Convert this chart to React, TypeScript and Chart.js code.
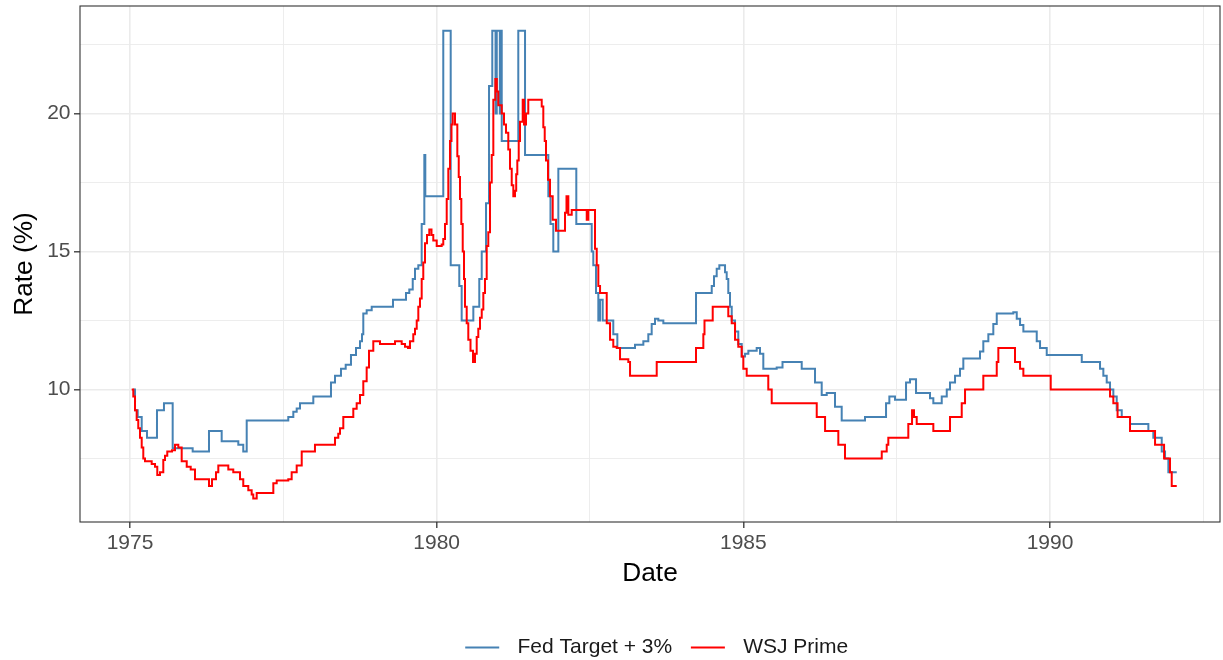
import React, { useEffect, useRef } from 'react';
import { Chart, registerables } from 'chart.js';

Chart.register(...registerables);

const FONT = "'Liberation Sans', Arial, Helvetica, sans-serif";

const seriesNames = ['Fed Target + 3%', 'WSJ Prime'];
const seriesColors = ['#4682B4', '#FF0000'];

// Fed Target + 3% (change points: decimal year, rate)
const fedTargetDates = [
  1975.054, 1975.082, 1975.126, 1975.191, 1975.277, 1975.440, 1975.554, 1975.696, 1976.022, 1976.288,
  1976.495, 1976.766, 1976.847, 1976.903, 1977.581, 1977.663, 1977.718, 1977.772, 1977.989, 1978.277,
  1978.343, 1978.440, 1978.517, 1978.603, 1978.685, 1978.750, 1978.783, 1978.804, 1978.859, 1978.941,
  1979.288, 1979.500, 1979.554, 1979.610, 1979.647, 1979.701, 1979.756, 1979.799, 1979.815, 1980.108,
  1980.229, 1980.369, 1980.408, 1980.598, 1980.695, 1980.735, 1980.805, 1980.854, 1980.907, 1980.960,
  1980.980, 1981.030, 1981.045, 1981.061, 1981.331, 1981.441, 1981.821, 1981.856,
  1981.902, 1981.984, 1982.277, 1982.528, 1982.554, 1982.598, 1982.636, 1982.664, 1982.707, 1982.880,
  1982.946, 1983.234, 1983.370, 1983.451, 1983.506, 1983.560, 1983.614, 1983.696, 1984.229, 1984.485,
  1984.522, 1984.566, 1984.609, 1984.702, 1984.729, 1984.755, 1984.783, 1984.811, 1984.865, 1984.918,
  1984.974, 1985.028, 1985.082, 1985.218, 1985.272, 1985.326, 1985.544, 1985.639, 1985.952, 1986.169,
  1986.278, 1986.360, 1986.495, 1986.604, 1986.984, 1987.327, 1987.381, 1987.473, 1987.653, 1987.718,
  1987.816, 1988.044, 1988.098, 1988.235, 1988.317, 1988.370, 1988.452, 1988.533, 1988.587, 1988.859,
  1988.913, 1988.995, 1989.076, 1989.132, 1989.402, 1989.458, 1989.512, 1989.566, 1989.784, 1989.838,
  1989.947, 1990.518, 1990.816, 1990.870, 1990.925, 1990.979, 1991.033, 1991.088, 1991.170, 1991.305,
  1991.604, 1991.685, 1991.822, 1991.876, 1991.930, 1992.067,
];
const fedTargetValues = [
  10.0, 9.25, 9.0, 8.5, 8.25, 9.25, 9.5, 7.875, 7.75, 8.5,
  8.125, 8.0, 7.75, 8.875, 9.0, 9.19, 9.31, 9.5, 9.75, 10.25,
  10.5, 10.75, 10.9, 11.25, 11.5, 11.75, 12.0, 12.75, 12.875, 13.0,
  13.25, 13.5, 13.625, 14.0, 14.375, 14.5, 16.0, 18.5, 17.0, 23.0,
  14.5, 13.75, 12.5, 13.0, 14.0, 15.0, 16.75, 21.0, 23.0, 20.0,
  23.0, 20.0, 23.0, 19.0, 23.0, 18.5, 17.0, 16.0,
  15.0, 18.0, 16.0, 15.0, 14.5, 13.5, 12.5, 13.25, 12.5, 12.0,
  11.5, 11.625, 11.75, 12.0, 12.375, 12.56, 12.5, 12.4, 13.5, 13.75,
  14.1, 14.375, 14.5, 14.25, 14.0, 13.5, 13.0, 12.5, 12.1, 11.65,
  11.2, 11.3, 11.4, 11.5, 11.3, 10.75, 10.8, 11.0, 10.75, 10.25,
  9.8, 9.875, 9.375, 8.875, 9.0, 9.5, 9.75, 9.625, 10.25, 10.375,
  9.875, 9.6875, 9.5, 9.75, 10.0, 10.25, 10.5, 10.75, 11.125, 11.375,
  11.75, 12.0, 12.375, 12.75, 12.8, 12.56, 12.34, 12.1, 11.75, 11.5,
  11.25, 11.0, 10.75, 10.5, 10.25, 10.0, 9.75, 9.25, 9.0, 8.75,
  8.5, 8.25, 7.75, 7.5, 7.0, 7.0,
];

// WSJ Prime (change points: decimal year, rate)
const wsjPrimeDates = [
  1975.028, 1975.054, 1975.082, 1975.109, 1975.135, 1975.163, 1975.191, 1975.217, 1975.245, 1975.354,
  1975.408, 1975.445, 1975.489, 1975.543, 1975.571, 1975.608, 1975.685, 1975.734, 1975.788, 1975.843,
  1975.925, 1975.990, 1976.060, 1976.288, 1976.337, 1976.402, 1976.440, 1976.603, 1976.684, 1976.794,
  1976.847, 1976.929, 1976.984, 1977.010, 1977.066, 1977.337, 1977.392, 1977.581, 1977.636, 1977.718,
  1977.800, 1978.016, 1978.343, 1978.396, 1978.424, 1978.478, 1978.641, 1978.696, 1978.750, 1978.804,
  1978.859, 1978.897, 1978.967, 1979.076, 1979.321, 1979.430, 1979.484, 1979.533, 1979.565, 1979.619,
  1979.647, 1979.675, 1979.701, 1979.728, 1979.756, 1979.782, 1979.810, 1979.843, 1979.880, 1979.916,
  1979.945, 1980.001, 1980.082, 1980.108, 1980.136, 1980.164, 1980.190, 1980.218, 1980.242, 1980.262,
  1980.299, 1980.337, 1980.360, 1980.381, 1980.402, 1980.425, 1980.446, 1980.462, 1980.490, 1980.516,
  1980.552, 1980.593, 1980.625, 1980.653, 1980.679, 1980.707, 1980.735, 1980.761, 1980.788, 1980.816,
  1980.842, 1980.870, 1980.898, 1980.924, 1980.957, 1980.981, 1981.005, 1981.061, 1981.098, 1981.131,
  1981.168, 1981.196, 1981.224, 1981.250, 1981.277, 1981.297, 1981.315, 1981.338, 1981.359, 1981.403,
  1981.424, 1981.457, 1981.494, 1981.713, 1981.739, 1981.762, 1981.783, 1981.816, 1981.848, 1981.892,
  1981.946, 1982.093, 1982.117, 1982.147, 1982.202, 1982.447, 1982.473, 1982.582, 1982.610, 1982.636,
  1982.664, 1982.773, 1982.827, 1982.880, 1982.936, 1982.990, 1983.125, 1983.153, 1983.588, 1984.229,
  1984.348, 1984.367, 1984.501, 1984.755, 1984.811, 1984.865, 1984.918, 1984.974, 1985.000, 1985.055,
  1985.407, 1985.463, 1986.197, 1986.333, 1986.549, 1986.658, 1987.257, 1987.338, 1987.364, 1987.690,
  1987.751, 1987.783, 1987.827, 1988.098, 1988.370, 1988.561, 1988.615, 1988.913, 1989.132, 1989.158,
  1989.430, 1989.512, 1989.566, 1990.012, 1990.979, 1991.033, 1991.102, 1991.305, 1991.713, 1991.860,
  1991.957, 1991.985, 1992.067,
];
const wsjPrimeValues = [
  10.0, 9.75, 9.25, 8.9, 8.6, 8.25, 7.9, 7.5, 7.4, 7.3,
  7.2, 6.9, 7.0, 7.45, 7.6, 7.75, 7.8, 8.0, 7.9, 7.4,
  7.2, 7.1, 6.75, 6.5, 6.75, 7.0, 7.25, 7.1, 7.0, 6.75,
  6.5, 6.35, 6.2, 6.05, 6.25, 6.6, 6.7, 6.75, 7.0, 7.25,
  7.75, 8.0, 8.25, 8.4, 8.6, 9.0, 9.3, 9.5, 9.8, 10.3,
  10.8, 11.4, 11.75, 11.65, 11.75, 11.65, 11.55, 11.5, 11.75, 12.0,
  12.2, 12.5, 13.0, 13.3, 14.0, 14.6, 15.3, 15.6, 15.8, 15.6,
  15.4, 15.2, 15.25, 15.45, 16.0, 16.9, 18.0, 19.0, 19.6, 20.0,
  19.6, 18.45, 17.7, 16.9, 16.0, 15.0, 14.0, 13.0, 12.4, 11.8,
  11.4, 11.0, 11.3, 11.9, 12.2, 12.6, 12.9, 13.5, 14.0, 15.2,
  15.7, 17.5, 18.5, 20.5, 21.25, 20.8, 20.3, 20.0, 19.6, 19.3,
  18.7, 18.0, 17.4, 17.0, 17.2, 17.8, 18.3, 19.0, 19.7, 20.5,
  19.6, 20.0, 20.5, 20.25, 19.5, 19.0, 18.3, 17.6, 17.0, 16.15,
  15.75, 16.4, 17.0, 16.33, 16.5, 16.15, 16.5, 15.1, 14.5, 13.75,
  13.5, 12.4, 11.8, 11.55, 11.5, 11.1, 11.0, 10.5, 11.0, 11.5,
  12.0, 12.5, 13.0, 12.65, 12.4, 11.8, 11.55, 11.2, 10.75, 10.5,
  10.0, 9.5, 9.0, 8.5, 8.0, 7.5, 7.75, 8.0, 8.25, 8.75,
  9.25, 9.0, 8.75, 8.5, 9.0, 9.5, 10.0, 10.5, 11.0, 11.5,
  11.0, 10.75, 10.5, 10.0, 9.75, 9.5, 9.0, 8.5, 8.0, 7.5,
  7.0, 6.5, 6.5,
];

// Axis ticks
const xMajorTicks = [1975, 1980, 1985, 1990];
const xMinorTicks = [1977.5, 1982.5, 1987.5, 1992.5];
const yMajorTicks = [10, 15, 20];
const yMinorTicks = [7.5, 12.5, 17.5, 22.5];
const xRange = [1974.185, 1992.772];
const yRange = [5.2, 23.895];

const isIn = (arr: number[], v: number) => arr.some((a) => Math.abs(a - v) < 1e-6);

const panelAndLegend = {
  id: 'panelAndLegend',
  afterDatasetsDraw(chart: any) {
    const { ctx, chartArea: a } = chart;
    ctx.save();
    ctx.strokeStyle = '#333333';
    ctx.lineWidth = 1.1;
    ctx.strokeRect(a.left, a.top, a.right - a.left, a.bottom - a.top);
    ctx.restore();
  },
  afterDraw(chart: any) {
    const ctx = chart.ctx;
    ctx.save();
    ctx.font = `21px ${FONT}`;
    const keyLen = 34;
    const keyGap = 18.3;
    const itemGap = 18.7;
    const widths = seriesNames.map((n) => ctx.measureText(n).width);
    const total = widths.reduce((s, w) => s + keyLen + keyGap + w, 0) + itemGap * (widths.length - 1);
    let x = 656.7 - total / 2;
    const y = 647.5;
    seriesNames.forEach((n, i) => {
      ctx.strokeStyle = seriesColors[i];
      ctx.lineWidth = 2.2;
      ctx.beginPath();
      ctx.moveTo(x, y);
      ctx.lineTo(x + keyLen, y);
      ctx.stroke();
      x += keyLen + keyGap;
      ctx.fillStyle = '#1A1A1A';
      ctx.textBaseline = 'middle';
      ctx.textAlign = 'left';
      ctx.fillText(n, x, y - 0.3);
      x += widths[i] + itemGap;
    });
    ctx.restore();
  },
};

export default function App() {
  const canvasRef = useRef<HTMLCanvasElement | null>(null);

  useEffect(() => {
    if (!canvasRef.current) return;
    const fedData = fedTargetDates.map((d, i) => ({ x: d, y: fedTargetValues[i] }));
    const primeData = wsjPrimeDates.map((d, i) => ({ x: d, y: wsjPrimeValues[i] }));

    const chart = new Chart(canvasRef.current, {
      type: 'line',
      data: {
        datasets: [
          {
            label: seriesNames[0],
            data: fedData,
            borderColor: seriesColors[0],
            backgroundColor: seriesColors[0],
            borderWidth: 2,
            pointRadius: 0,
            stepped: 'before',
            order: 1,
          },
          {
            label: seriesNames[1],
            data: primeData,
            borderColor: seriesColors[1],
            backgroundColor: seriesColors[1],
            borderWidth: 2,
            pointRadius: 0,
            stepped: 'before',
            order: 0,
          },
        ],
      },
      options: {
        animation: false,
        responsive: true,
        maintainAspectRatio: false,
        layout: { padding: { top: 6, right: 3, left: 0, bottom: 0 } },
        plugins: {
          legend: { display: false },
          tooltip: { enabled: false },
        },
        scales: {
          x: {
            type: 'linear',
            min: xRange[0],
            max: xRange[1],
            afterBuildTicks: (scale: any) => {
              scale.ticks = [...xMajorTicks, ...xMinorTicks].sort((a, b) => a - b).map((v) => ({ value: v }));
            },
            afterFit: (scale: any) => {
              scale.height = 138;
              scale.paddingLeft = 0;
              scale.paddingRight = 0;
              scale.paddingTop = 0;
              scale.paddingBottom = 0;
            },
            border: { display: false },
            grid: {
              color: '#EBEBEB',
              lineWidth: (c: any) => (isIn(xMajorTicks, c.tick?.value) ? 1.6 : 0.9),
              tickColor: (c: any) => (isIn(xMajorTicks, c.tick?.value) ? '#333333' : 'rgba(0,0,0,0)'),
              tickWidth: 1.3,
              tickLength: 6,
            },
            ticks: {
              autoSkip: false,
              maxRotation: 0,
              padding: 3,
              color: '#4D4D4D',
              font: { size: 21, family: FONT },
              callback: (v: any) => (isIn(xMajorTicks, Number(v)) ? String(v) : ''),
            },
            title: {
              display: true,
              text: 'Date',
              color: '#000000',
              font: { size: 26.25, family: FONT },
              padding: { top: 0, bottom: 70 },
            },
          },
          y: {
            type: 'linear',
            min: yRange[0],
            max: yRange[1],
            afterBuildTicks: (scale: any) => {
              scale.ticks = [...yMajorTicks, ...yMinorTicks].sort((a, b) => a - b).map((v) => ({ value: v }));
            },
            afterFit: (scale: any) => {
              scale.width = 80;
              scale.paddingLeft = 0;
              scale.paddingRight = 0;
              scale.paddingTop = 0;
              scale.paddingBottom = 0;
            },
            border: { display: false },
            grid: {
              color: '#EBEBEB',
              lineWidth: (c: any) => (isIn(yMajorTicks, c.tick?.value) ? 1.6 : 0.9),
              tickColor: (c: any) => (isIn(yMajorTicks, c.tick?.value) ? '#333333' : 'rgba(0,0,0,0)'),
              tickWidth: 1.3,
              tickLength: 6,
            },
            ticks: {
              autoSkip: false,
              padding: 3.5,
              color: '#4D4D4D',
              font: { size: 21, family: FONT },
              callback: (v: any) => (isIn(yMajorTicks, Number(v)) ? String(v) : ''),
            },
            title: {
              display: true,
              text: 'Rate (%)',
              color: '#000000',
              font: { size: 26.25, family: FONT },
              padding: { top: 9, bottom: 0 },
            },
          },
        },
      },
      plugins: [panelAndLegend],
    } as any);

    return () => {
      chart.destroy();
    };
  }, []);

  return (
    <div style={{ position: 'absolute', left: 0, top: 0, width: 1223, height: 660, background: '#FFFFFF' }}>
      <canvas ref={canvasRef} />
    </div>
  );
}
